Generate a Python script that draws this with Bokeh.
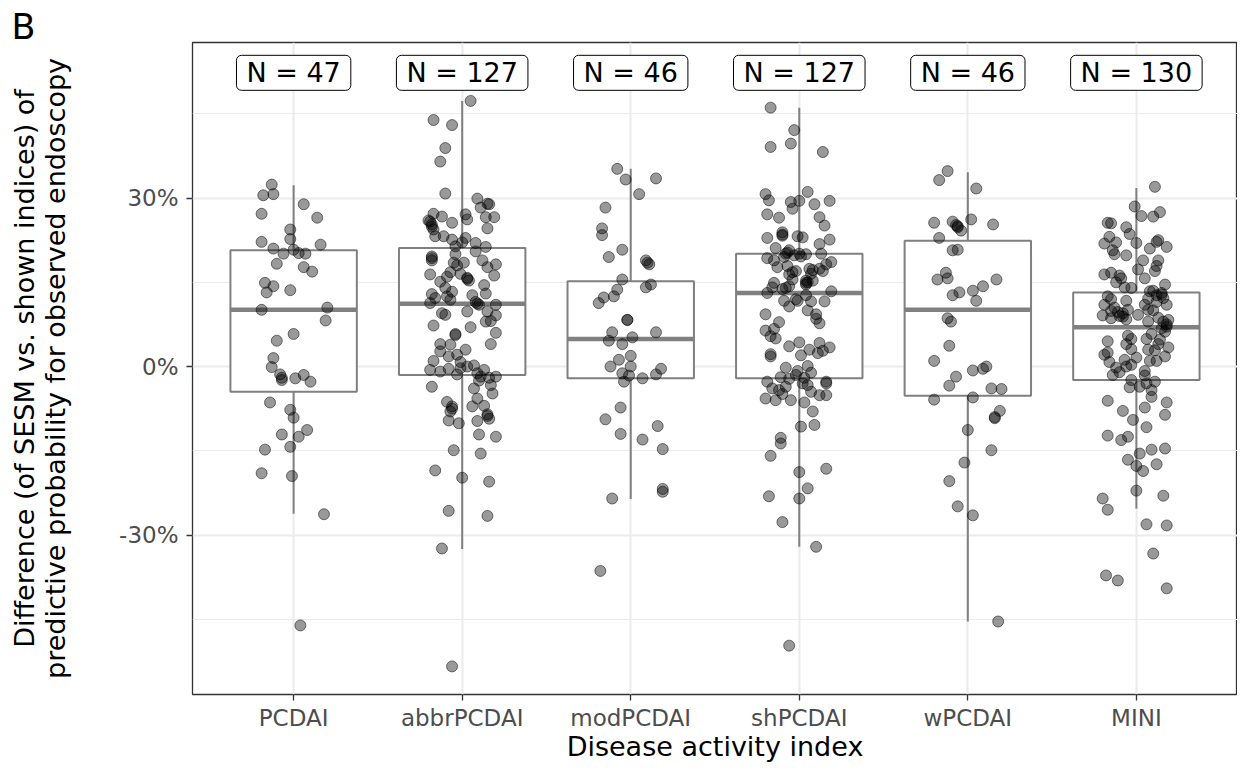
from bokeh.plotting import figure
from bokeh.models import ColumnDataSource, FixedTicker, Range1d, PrintfTickFormatter
from bokeh.embed import file_html
from bokeh.resources import INLINE
from bokeh.core.properties import value

# ---------------- data ----------------
categories = ["PCDAI", "abbrPCDAI", "modPCDAI", "shPCDAI", "wPCDAI", "MINI"]
n_labels = ["N = 47", "N = 127", "N = 46", "N = 127", "N = 46", "N = 130"]

# box statistics (percent)
q1 = [-4.5, -1.5, -2.1, -2.1, -5.2, -2.4]
median = [10.1, 11.2, 4.9, 13.1, 10.1, 7.0]
q3 = [20.7, 21.1, 15.2, 20.1, 22.4, 13.2]
whisk_lo = [-26.2, -32.5, -23.6, -32.1, -45.4, -25.3]
whisk_hi = [32.3, 47.3, 35.2, 46.1, 34.6, 31.8]

y_ticks = [-30, 0, 30]
y_minor = [-45, -15, 15, 45]
label_y = 52.3

# individual observations (percent) and horizontal jitter (category units)
pcdai_y = [32.4, 30.5, 30.7, 28.9, 27.2, 26.5, 24.4, 22.7, 22.2, 21.7, 21.0, 20.1, 20.8, 20.2,
           20.1, 18.3, 17.7, 16.9, 14.9, 14.3, 13.2, 13.6, 10.1, 10.5, 8.2, 5.8, 4.6, 1.5, -0.1,
           -1.4, -2.0, -2.4, -2.1, -1.5, -2.7, -6.4, -7.7, -9.1, -11.3, -12.5, -12.1, -14.3,
           -14.8, -19.0, -19.5, -26.3, -46.1]
pcdai_dx = [-0.13, -0.18, -0.12, 0.06, -0.19, 0.14, -0.02, -0.02, -0.19, 0.16, -0.12, -0.06, 0.0,
            0.03, 0.07, -0.10, 0.06, 0.11, -0.17, -0.12, -0.16, -0.02, -0.19, 0.20, 0.19, 0.0,
            -0.10, -0.12, -0.13, -0.08, -0.07, -0.07, 0.01, 0.06, 0.10, -0.14, -0.02, 0.0, 0.08,
            0.03, -0.07, -0.02, -0.17, -0.19, -0.01, 0.18, 0.04]

abbr_y = [47.3, 43.9, 43.0, 38.9, 36.5, 30.8, 29.9, 29.0, 28.3, 28.9, 27.2, 26.7, 27.1, 26.6,
          26.6, 26.0, 25.3, 25.6, 24.6, 24.4, 23.2, 23.2, 22.6, 22.9, 22.0, 21.3, 21.4, 19.6,
          18.9, 20.0, 18.5, 18.5, 18.9, 18.2, 17.7, 16.4, 16.8, 16.5, 15.8, 15.3, 16.2, 15.1,
          14.0, 12.9, 13.3, 12.5, 11.9, 12.7, 13.0, 11.3, 11.5, 11.0, 11.0, 9.8, 9.8, 9.1, 9.2,
          8.0, 8.1, 7.3, 6.0, 5.8, 4.0, 4.0, 3.9, 2.7, 1.8, 2.1, 1.0, -0.6, -0.9, -0.4, -1.4,
          -0.3, 0.0, 0.2, -1.2, -1.8, -2.0, -1.8, -3.6, -3.9, -3.3, -4.8, -6.3, -7.1, -8.0,
          -5.7, -7.1, -7.0, -8.5, -9.6, -10.1, -9.7, -9.3, -12.1, -12.5, -14.9, -15.5, -18.5,
          -19.8, -20.5, -25.7, -26.6, -32.4, -53.4,
          25.8, 24.9, 19.3, 15.6, 11.2, 5.6, -7.5, -8.8, 22.1, 18.0, 14.5, 9.5, 7.0, 3.0, 0.8,
          -2.5, 20.5, 16.0, 12.2, 26.2, -0.6]
abbr_dx = [0.05, -0.17, -0.06, -0.10, -0.13, -0.10, 0.09, 0.15, 0.11, 0.16, -0.17, -0.12, 0.02,
           0.14, 0.19, -0.20, -0.18, -0.06, 0.15, -0.17, -0.16, -0.11, -0.06, 0.02, 0.08, 0.14,
           -0.04, -0.18, -0.18, -0.04, -0.05, 0.01, 0.12, 0.20, 0.15, -0.19, -0.07, -0.01, 0.03,
           0.04, 0.19, -0.13, -0.10, -0.18, -0.06, -0.09, -0.07, 0.06, 0.14, -0.19, 0.08, 0.10,
           0.20, 0.03, 0.15, 0.20, -0.10, 0.14, 0.17, -0.17, 0.20, -0.04, 0.17, -0.13, -0.07,
           -0.13, -0.08, -0.03, -0.17, -0.19, -0.13, -0.08, -0.03, -0.01, 0.03, 0.07, 0.09, 0.11,
           0.16, 0.20, -0.18, 0.07, 0.17, 0.18, -0.09, -0.06, -0.07, 0.09, 0.06, 0.13, 0.15,
           -0.08, -0.02, 0.09, 0.16, 0.10, 0.20, -0.05, 0.11, -0.16, 0.0, 0.16, -0.08, 0.15,
           -0.12, -0.06,
           -0.19, -0.18, -0.18, 0.03, 0.09, -0.04, -0.06, 0.15, 0.00, -0.03, 0.13, -0.12, 0.05,
           0.02, -0.01, 0.10, 0.08, -0.09, -0.16, 0.03, 0.13]

mod_y = [35.2, 33.3, 33.5, 30.7, 28.3, 24.6, 23.4, 20.8, 19.5, 18.9, 18.2, 15.5, 13.7, 14.6,
         14.1, 12.3, 12.5, 11.3, 8.3, 6.1, 4.6, 5.2, 6.1, 4.0, 1.9, 1.2, 0.0, 0.0, -1.2, -1.6,
         -2.7, -2.1, -1.4, -0.4, -7.3, -9.4, -12.0, -13.0, -10.6, -14.7, -21.8, -22.3, -23.5,
         -36.4, 8.3, 18.5]
mod_dx = [-0.08, -0.03, 0.15, 0.05, -0.15, -0.17, -0.17, -0.05, -0.13, 0.09, 0.11, -0.05, -0.08,
          0.12, 0.09, -0.16, -0.10, -0.19, -0.02, -0.11, -0.13, 0.01, 0.15, -0.05, 0.0, -0.07,
          -0.12, 0.0, -0.05, -0.01, -0.04, 0.07, 0.15, 0.18, -0.06, -0.15, -0.06, 0.07, 0.16,
          0.19, 0.19, 0.19, -0.11, -0.18, -0.02, 0.10]

sh_y = [46.1, 42.1, 39.1, 39.7, 38.2, 30.7, 29.6, 29.3, 29.5, 31.1, 28.9, 29.5, 28.1, 27.1,
        26.5, 26.6, 25.1, 23.9, 23.3, 23.2, 23.0, 22.9, 22.6, 21.1, 20.7, 20.1, 20.1, 20.0,
        20.1, 19.3, 19.5, 19.8, 18.6, 18.2, 17.7, 17.9, 17.4, 17.4, 17.0, 16.5, 16.4, 17.0,
        15.5, 15.3, 15.3, 14.9, 14.1, 14.0, 14.3, 14.9, 13.1, 13.4, 12.7, 11.7, 10.7, 11.7,
        11.6, 11.6, 10.0, 9.3, 9.3, 7.9, 7.7, 6.4, 6.7, 5.4, 3.6, 4.3, 4.2, 3.4, 3.0, 2.4,
        2.0, 2.2, 1.8, -0.2, 0.1, -0.8, -1.1, -1.9, -2.2, -2.0, -2.7, -2.7, -3.9, -3.6, -3.0,
        -4.5, -5.1, -5.1, -5.7, -6.0, -6.0, -6.4, -4.9, -3.0, -8.0, -10.7, -10.4, -12.7,
        -13.7, -15.9, -18.8, -18.2, -21.7, -23.1, -23.5, -27.7, -32.1, -49.7,
        23.5, 20.3, 19.6, 17.2, 15.0, 14.6, 16.8, 18.9, 12.0, 8.5, 5.0, 2.8, -1.5, -3.3, -4.2,
        21.8, 13.8]
sh_dx = [-0.17, -0.03, -0.17, -0.05, 0.14, -0.20, -0.18, -0.05, 0.0, 0.05, 0.09, 0.18, -0.04,
         -0.19, -0.12, 0.12, 0.15, -0.10, -0.10, -0.01, 0.02, -0.19, 0.18, -0.14, -0.06, -0.08,
         0.0, 0.04, 0.13, -0.19, -0.09, -0.03, 0.19, 0.16, -0.13, -0.07, 0.06, 0.12, 0.14, 0.07,
         -0.06, -0.02, -0.04, 0.04, 0.08, -0.15, -0.16, -0.08, -0.06, 0.04, -0.19, 0.19, 0.04,
         -0.09, -0.06, -0.01, 0.07, 0.15, 0.05, -0.20, 0.10, -0.12, 0.12, -0.20, -0.15, -0.17,
         -0.06, 0.0, 0.12, 0.18, 0.06, 0.11, 0.01, -0.17, -0.17, -0.08, 0.05, -0.01, 0.07,
         -0.11, -0.06, 0.03, 0.16, -0.19, -0.16, -0.08, 0.02, 0.07, 0.12, 0.16, -0.20, -0.14,
         -0.05, 0.03, -0.10, 0.16, 0.08, 0.01, 0.09, -0.11, -0.11, -0.17, 0.0, 0.16, 0.05,
         -0.18, 0.0, -0.10, 0.10, -0.06,
         -0.10, -0.07, 0.01, 0.08, 0.05, 0.04, -0.04, -0.15, -0.02, 0.10, -0.14, 0.14, -0.02,
         0.05, -0.12, 0.12, -0.10]

w_y = [34.8, 33.2, 31.7, 25.6, 25.8, 25.2, 24.8, 24.2, 26.2, 25.3, 22.9, 20.7, 20.8, 16.7,
       15.5, 15.7, 15.5, 14.3, 13.5, 13.2, 12.7, 11.7, 8.6, 8.0, 3.7, 1.0, -1.8, -0.7, -0.4,
       0.0, -3.4, -3.9, -4.0, -5.9, -5.5, -7.9, -9.0, -9.2, -11.3, -14.9, -17.1, -20.4, -24.9,
       -26.5, -45.4, 25.0]
w_dx = [-0.12, -0.17, 0.05, -0.20, -0.09, -0.07, -0.06, -0.04, 0.02, 0.15, -0.17, -0.09, -0.06,
        -0.13, -0.18, -0.12, 0.17, 0.09, 0.03, -0.05, -0.09, 0.05, -0.12, -0.10, -0.11, -0.20,
        -0.07, 0.03, 0.09, 0.11, -0.11, 0.14, 0.20, -0.20, 0.03, 0.19, 0.16, 0.16, 0.0, 0.14,
        -0.02, -0.11, -0.06, 0.03, 0.18, -0.06]

mini_y = [32.0, 28.5, 26.8, 26.7, 27.5, 25.6, 25.5, 24.8, 23.6, 23.1, 21.9, 22.1, 20.7, 22.0,
          22.2, 21.3, 21.0, 19.8, 18.9, 18.9, 17.9, 17.3, 16.4, 16.7, 16.2, 15.7, 15.7, 14.1,
          14.0, 14.6, 12.5, 13.4, 12.7, 13.1, 12.2, 11.0, 11.7, 12.1, 11.0, 9.9, 9.7, 10.1, 9.1,
          8.9, 8.4, 9.2, 10.1, 10.0, 8.6, 8.0, 8.7, 8.3, 7.1, 6.2, 5.8, 4.9, 4.5, 4.0, 4.9, 4.8,
          3.1, 3.4, 3.0, 2.9, 2.1, 1.6, 1.8, 0.8, 1.2, 1.0, -0.2, 0.0, -1.5, -0.8, -1.6, -2.4,
          -2.7, -3.7, -3.6, -4.2, -5.4, -6.1, -6.4, -8.6, -7.3, -7.9, -9.5, -10.8, -12.3, -13.1,
          -12.5, -15.5, -14.8, -14.6, -16.6, -17.7, -18.6, -17.4, -22.1, -23.5, -25.5, -23.0,
          -28.1, -28.3, -33.3, -37.2, -38.1, -39.5,
          10.5, 9.5, 11.5, 12.8, 8.0, 6.8, 13.5, 9.0, 2.5, 1.0, -1.0, 4.0, 15.0, 17.0, 20.0,
          22.5, -3.0, 5.5, 7.5, 12.0, 0.3, 11.0]
mini_dx = [0.11, -0.01, 0.03, 0.10, 0.14, -0.17, -0.15, -0.06, -0.04, -0.16, -0.19, -0.12,
           -0.14, 0.0, 0.12, 0.18, 0.08, -0.06, 0.04, 0.13, 0.12, 0.01, -0.19, -0.15, -0.10,
           -0.09, 0.05, -0.07, -0.03, 0.17, -0.17, 0.08, 0.12, 0.15, 0.16, -0.19, -0.06, 0.07,
           0.18, -0.15, -0.11, -0.05, -0.20, -0.08, -0.06, 0.01, 0.07, 0.10, -0.15, 0.07, 0.13,
           0.19, 0.18, 0.17, 0.09, 0.06, -0.17, -0.06, -0.03, 0.14, -0.03, 0.19, 0.07, 0.11,
           -0.19, 0.0, 0.17, -0.16, -0.07, 0.12, -0.12, -0.06, -0.14, 0.05, 0.05, -0.03, 0.11,
           -0.04, 0.02, 0.09, 0.09, -0.17, 0.18, 0.17, 0.05, -0.08, -0.02, 0.06, -0.17, -0.09,
           -0.05, 0.02, 0.09, 0.17, -0.05, 0.0, 0.04, 0.12, 0.0, -0.20, -0.17, 0.16, 0.06, 0.18,
           0.10, -0.18, -0.11, 0.18,
           -0.13, -0.08, 0.12, 0.15, 0.16, 0.15, 0.10, -0.10, -0.17, 0.08, -0.10, 0.13, -0.12,
           0.11, -0.13, 0.13, 0.06, -0.05, 0.18, -0.15, -0.03, 0.05]

all_y = [pcdai_y, abbr_y, mod_y, sh_y, w_y, mini_y]
all_dx = [pcdai_dx, abbr_dx, mod_dx, sh_dx, w_dx, mini_dx]

# ---------------- figure ----------------
FONT = "DejaVu Sans"
pos = [i + 1 for i in range(len(categories))]
half_w = 0.375
X_LO, X_HI = 0.4, 6.6
Y_LO, Y_HI = -58.4, 57.7

p = figure(width=1237, height=768, x_range=Range1d(X_LO, X_HI), y_range=Range1d(Y_LO, Y_HI),
           output_backend="svg", toolbar_location=None,
           min_border_left=192, min_border_right=0, min_border_top=42, min_border_bottom=74)
p.background_fill_color = "white"
p.border_fill_color = "white"
p.outline_line_color = "#333333"
p.outline_line_width = 1.3

# panel tag "B" as a left-aligned title in the top margin
p.title.text = "B"
p.title.align = "left"
p.title.offset = -181
p.title.standoff = -8
p.title.text_font = FONT
p.title.text_font_size = "35px"
p.title.text_font_style = "normal"
p.title.text_color = "black"
p.title.text_line_height = 1.0

# grids
p.xgrid.ticker = FixedTicker(ticks=pos)
p.xgrid.grid_line_color = "#EBEBEB"
p.xgrid.grid_line_width = 2
p.ygrid.ticker = FixedTicker(ticks=y_ticks, minor_ticks=y_minor)
p.ygrid.grid_line_color = "#EBEBEB"
p.ygrid.grid_line_width = 2
p.ygrid.minor_grid_line_color = "#EBEBEB"
p.ygrid.minor_grid_line_width = 1

# axes
p.xaxis.ticker = FixedTicker(ticks=pos)
p.xaxis.major_label_overrides = {pp: c for pp, c in zip(pos, categories)}
p.yaxis.ticker = FixedTicker(ticks=y_ticks, minor_ticks=y_minor)
p.yaxis.formatter = PrintfTickFormatter(format="%d%%")
for ax in (p.xaxis, p.yaxis):
    ax.axis_line_color = None
    ax.major_tick_line_color = "#333333"
    ax.major_tick_line_width = 1.3
    ax.major_tick_out = 6
    ax.major_tick_in = 0
    ax.minor_tick_line_color = None
    ax.major_label_text_font = FONT
    ax.major_label_text_font_size = "23px"
    ax.major_label_text_color = "#4D4D4D"
    ax.major_label_text_line_height = 1.0
    ax.axis_label_text_font = FONT
    ax.axis_label_text_font_size = "27px"
    ax.axis_label_text_font_style = "normal"
    ax.axis_label_text_color = "black"
    ax.axis_label_text_line_height = 1.0
p.xaxis.axis_label = "Disease activity index"
p.xaxis.major_label_standoff = 4
p.xaxis.axis_label_standoff = -3
p.yaxis.axis_label = "Difference (of SESM vs. shown indices) of\npredictive probability for observed endoscopy"
p.yaxis.major_label_standoff = 8
p.yaxis.axis_label_standoff = 45

# boxplots
box_src = ColumnDataSource(dict(
    x=pos,
    left=[x - half_w for x in pos], right=[x + half_w for x in pos],
    q1=q1, med=median, q3=q3, lo=whisk_lo, hi=whisk_hi))
box_col = "#808080"
p.segment(x0="x", y0="lo", x1="x", y1="q1", source=box_src, line_color=box_col, line_width=2)
p.segment(x0="x", y0="q3", x1="x", y1="hi", source=box_src, line_color=box_col, line_width=2)
p.quad(left="left", right="right", bottom="q1", top="q3", source=box_src,
       fill_color="white", line_color=box_col, line_width=2)
p.segment(x0="left", y0="med", x1="right", y1="med", source=box_src,
          line_color=box_col, line_width=4.5)

# points
px, py = [], []
for xc, ys, dxs in zip(pos, all_y, all_dx):
    for yy, dd in zip(ys, dxs):
        px.append(xc + dd)
        py.append(yy)
pt_src = ColumnDataSource(dict(x=px, y=py))
p.scatter(x="x", y="y", source=pt_src, size=11, fill_color="black", fill_alpha=0.4,
          line_color="black", line_alpha=0.5, line_width=1)

# N labels
lab_src = ColumnDataSource(dict(x=pos, y=[label_y] * len(pos), t=n_labels))
p.text(x="x", y="y", text="t", source=lab_src, text_align="center", text_baseline="middle",
       text_font=value(FONT), text_font_size="27px", text_color="black",
       background_fill_color="white", border_line_color="black", border_line_width=1,
       padding=(10, 2), border_radius=5)

open("out.html", "w").write(file_html(p, INLINE))
